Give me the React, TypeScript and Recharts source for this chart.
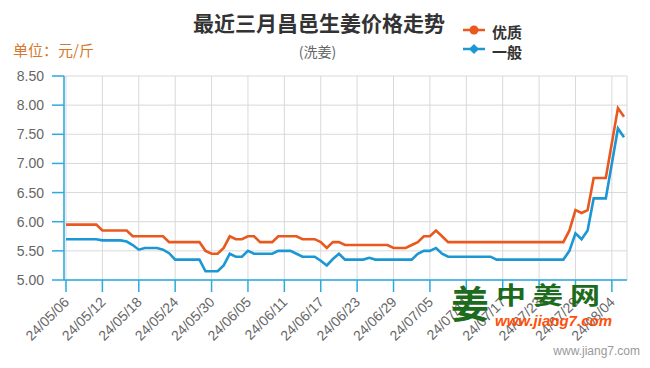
import React from "react";
import { LineChart, Line, XAxis, YAxis, CartesianGrid } from "recharts";

// daily dates, 24/05/06 .. 24/08/06
const dates = [
  "24/05/06", "24/05/07", "24/05/08", "24/05/09", "24/05/10", "24/05/11", "24/05/12", "24/05/13",
  "24/05/14", "24/05/15", "24/05/16", "24/05/17", "24/05/18", "24/05/19", "24/05/20", "24/05/21",
  "24/05/22", "24/05/23", "24/05/24", "24/05/25", "24/05/26", "24/05/27", "24/05/28", "24/05/29",
  "24/05/30", "24/05/31",
  "24/06/01", "24/06/02", "24/06/03", "24/06/04", "24/06/05", "24/06/06", "24/06/07", "24/06/08",
  "24/06/09", "24/06/10", "24/06/11", "24/06/12", "24/06/13", "24/06/14", "24/06/15", "24/06/16",
  "24/06/17", "24/06/18", "24/06/19", "24/06/20", "24/06/21", "24/06/22", "24/06/23", "24/06/24",
  "24/06/25", "24/06/26", "24/06/27", "24/06/28", "24/06/29", "24/06/30",
  "24/07/01", "24/07/02", "24/07/03", "24/07/04", "24/07/05", "24/07/06", "24/07/07", "24/07/08",
  "24/07/09", "24/07/10", "24/07/11", "24/07/12", "24/07/13", "24/07/14", "24/07/15", "24/07/16",
  "24/07/17", "24/07/18", "24/07/19", "24/07/20", "24/07/21", "24/07/22", "24/07/23", "24/07/24",
  "24/07/25", "24/07/26", "24/07/27", "24/07/28", "24/07/29", "24/07/30", "24/07/31",
  "24/08/01", "24/08/02", "24/08/03", "24/08/04", "24/08/05", "24/08/06",
];

const tickDates = [
  "24/05/06", "24/05/12", "24/05/18", "24/05/24", "24/05/30", "24/06/05", "24/06/11", "24/06/17",
  "24/06/23", "24/06/29", "24/07/05", "24/07/11", "24/07/17", "24/07/23", "24/07/29", "24/08/04",
];

// 优质
const youzhi = [
  5.95, 5.95, 5.95, 5.95, 5.95, 5.95, 5.85, 5.85, 5.85, 5.85, 5.85,
  5.75, 5.75, 5.75, 5.75, 5.75, 5.75, 5.65, 5.65, 5.65, 5.65, 5.65, 5.65,
  5.5, 5.45, 5.45, 5.55, 5.75, 5.7, 5.7, 5.75, 5.75,
  5.65, 5.65, 5.65, 5.75, 5.75, 5.75, 5.75, 5.7, 5.7, 5.7,
  5.65, 5.55, 5.65, 5.65,
  5.6, 5.6, 5.6, 5.6, 5.6, 5.6, 5.6, 5.6, 5.55, 5.55, 5.55,
  5.6, 5.65, 5.75, 5.75, 5.85, 5.75,
  5.65, 5.65, 5.65, 5.65, 5.65, 5.65, 5.65, 5.65, 5.65, 5.65,
  5.65, 5.65, 5.65, 5.65, 5.65, 5.65, 5.65, 5.65, 5.65, 5.65,
  5.85, 6.2, 6.15, 6.2, 6.75, 6.75, 6.75, 7.35, 7.95, 7.8,
];

// 一般
const yiban = [
  5.7, 5.7, 5.7, 5.7, 5.7, 5.7, 5.68, 5.68, 5.68, 5.68, 5.66, 5.6, 5.52,
  5.55, 5.55, 5.55, 5.52, 5.46, 5.35, 5.35, 5.35, 5.35, 5.35,
  5.15, 5.15, 5.15, 5.25, 5.45, 5.4, 5.4, 5.5,
  5.45, 5.45, 5.45, 5.45, 5.5, 5.5, 5.5, 5.45, 5.4, 5.4, 5.4,
  5.33, 5.25, 5.36, 5.45,
  5.35, 5.35, 5.35, 5.35, 5.38, 5.35, 5.35, 5.35, 5.35, 5.35, 5.35, 5.35,
  5.45, 5.5, 5.5, 5.55, 5.45,
  5.4, 5.4, 5.4, 5.4, 5.4, 5.4, 5.4, 5.4,
  5.35, 5.35, 5.35, 5.35, 5.35, 5.35, 5.35, 5.35, 5.35, 5.35, 5.35, 5.35,
  5.5, 5.8, 5.7, 5.85, 6.4, 6.4, 6.4, 7.0, 7.6, 7.45,
];

const yTicks = [5, 5.5, 6, 6.5, 7, 7.5, 8, 8.5];

const ORANGE = "#e9581f";
const BLUE = "#1b97d4";
const AXIS = "#29abe2";
const GRID = "#d9d9d9";
const LATIN = '"Liberation Sans", Arial, "Noto Sans CJK SC", sans-serif';
const CJK = '"Noto Sans CJK SC", "Liberation Sans", sans-serif';

const series = [
  { key: "youzhi", name: "优质", color: ORANGE, marker: "circle" },
  { key: "yiban", name: "一般", color: BLUE, marker: "diamond" },
];

const data = dates.map((date, i) => ({ date, youzhi: youzhi[i], yiban: yiban[i] }));

function DateTick(props: any) {
  const { x, y, payload } = props;
  return (
    <g transform={`translate(${x + 4},${y + 9}) rotate(-45)`}>
      <text x={0} y={0} textAnchor="end" fill="#666" fontSize={14} fontFamily={LATIN}>
        {payload.value}
      </text>
    </g>
  );
}

function LegendIcon({ color, marker }: { color: string; marker: string }) {
  return (
    <svg width={22} height={10} style={{ display: "block" }}>
      <line x1={0} y1={5} x2={22} y2={5} stroke={color} strokeWidth={2.5} />
      {marker === "circle" ? (
        <circle cx={11} cy={5} r={4.5} fill={color} />
      ) : (
        <path d="M11 0 L16 5 L11 10 L6 5 Z" fill={color} />
      )}
    </svg>
  );
}

export default function App() {
  return (
    <div
      style={{
        position: "absolute",
        left: 0,
        top: 0,
        width: 650,
        height: 368,
        background: "#fff",
        overflow: "hidden",
      }}
    >
      <LineChart
        width={650}
        height={368}
        data={data}
        margin={{ top: 76, right: 23, left: 0, bottom: 8 }}
      >
        <CartesianGrid stroke={GRID} strokeWidth={1} />
        <XAxis
          dataKey="date"
          ticks={tickDates}
          interval={0}
          height={80}
          padding={{ left: 2, right: 3 }}
          axisLine={{ stroke: AXIS, strokeWidth: 1.5 }}
          tickLine={{ stroke: AXIS, strokeWidth: 1.5 }}
          tickSize={12}
          tickMargin={2}
          tick={<DateTick />}
        />
        <YAxis
          domain={[5, 8.5]}
          ticks={yTicks}
          width={64}
          axisLine={{ stroke: AXIS, strokeWidth: 1.5 }}
          tickLine={{ stroke: AXIS, strokeWidth: 1.5 }}
          tickSize={12}
          tickMargin={8}
          tick={{ fill: "#666", fontSize: 14, fontFamily: LATIN }}
          tickFormatter={(v: number) => v.toFixed(2)}
        />
        {series.map((s) => (
          <Line
            key={s.key}
            type="linear"
            dataKey={s.key}
            name={s.name}
            stroke={s.color}
            strokeWidth={2.6}
            dot={false}
            activeDot={false}
            isAnimationActive={false}
          />
        ))}
      </LineChart>

      {/* title block */}
      <div
        style={{
          position: "absolute",
          left: 0,
          width: 638,
          top: 12,
          lineHeight: "21px",
          fontSize: 21,
          fontWeight: 700,
          color: "#333",
          fontFamily: CJK,
          textAlign: "center",
        }}
      >
        最近三月昌邑生姜价格走势
      </div>
      <div
        style={{
          position: "absolute",
          left: 0,
          width: 635,
          top: 44,
          lineHeight: "14px",
          fontSize: 14,
          color: "#666",
          fontFamily: CJK,
          textAlign: "center",
        }}
      >
        (洗姜)
      </div>
      <div
        style={{
          position: "absolute",
          left: 13,
          top: 42,
          lineHeight: "15px",
          fontSize: 15,
          color: "#d5772c",
          fontFamily: CJK,
        }}
      >
        单位：元/斤
      </div>

      {/* legend: icon and label placed separately */}
      {series.map((s, i) => (
        <React.Fragment key={s.key}>
          <div style={{ position: "absolute", left: 463, top: 25 + i * 19 }}>
            <LegendIcon color={s.color} marker={s.marker} />
          </div>
          <div
            style={{
              position: "absolute",
              left: 492,
              top: 24.5 + i * 20.5,
              fontSize: 14,
              lineHeight: "14px",
              fontWeight: 700,
              color: "#333",
              fontFamily: CJK,
              transform: "scale(1.07)",
              transformOrigin: "left center",
            }}
          >
            {s.name}
          </div>
        </React.Fragment>
      ))}

      {/* watermark */}
      <div
        style={{
          position: "absolute",
          left: 451,
          top: 283,
          fontSize: 38,
          lineHeight: "38px",
          fontWeight: 700,
          color: "#1d6b1d",
          fontFamily: CJK,
        }}
      >
        姜
      </div>
      <div
        style={{
          position: "absolute",
          left: 496,
          top: 282,
          fontSize: 30,
          lineHeight: "30px",
          fontWeight: 700,
          color: "#1d6b1d",
          fontFamily: CJK,
          letterSpacing: 7,
          transform: "scaleY(0.8)",
          transformOrigin: "top left",
        }}
      >
        中姜网
      </div>
      <div
        style={{
          position: "absolute",
          left: 495,
          top: 312.5,
          fontSize: 15,
          lineHeight: "15px",
          fontWeight: 700,
          fontStyle: "italic",
          color: "#ff4f0a",
          fontFamily: LATIN,
        }}
      >
        www.jiang7.com
      </div>
      <div
        style={{
          position: "absolute",
          right: 10,
          top: 345,
          fontSize: 12,
          lineHeight: "12px",
          color: "#999",
          fontFamily: LATIN,
        }}
      >
        www.jiang7.com
      </div>
    </div>
  );
}
